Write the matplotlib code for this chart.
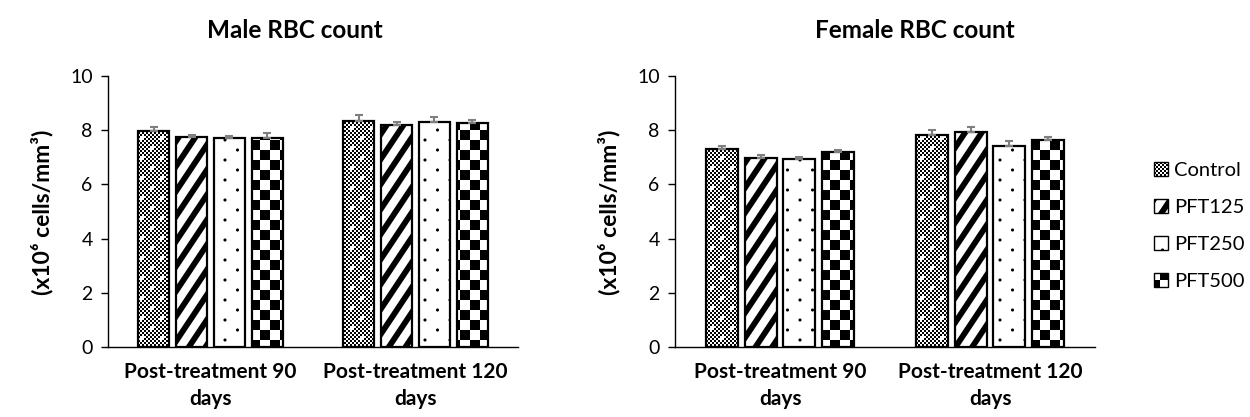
import numpy as np
import matplotlib
matplotlib.use("Agg")
import matplotlib.pyplot as plt
import matplotlib.hatch as mhatch
from matplotlib.path import Path
from matplotlib.patches import Patch

# ---------------- data ----------------
groups = ["Post-treatment 90\ndays", "Post-treatment 120\ndays"]
treatments = ["Control", "PFT125", "PFT250", "PFT500"]

male_mean = {
    "Control": [7.98, 8.35],
    "PFT125": [7.73, 8.17],
    "PFT250": [7.70, 8.30],
    "PFT500": [7.70, 8.25],
}
male_err = {
    "Control": [0.13, 0.20],
    "PFT125": [0.10, 0.13],
    "PFT250": [0.08, 0.20],
    "PFT500": [0.18, 0.11],
}
female_mean = {
    "Control": [7.30, 7.83],
    "PFT125": [6.97, 7.93],
    "PFT250": [6.93, 7.43],
    "PFT500": [7.19, 7.62],
}
female_err = {
    "Control": [0.11, 0.17],
    "PFT125": [0.10, 0.17],
    "PFT250": [0.08, 0.16],
    "PFT500": [0.07, 0.14],
}
y_ticks = [0, 2, 4, 6, 8, 10]


# ---------------- custom fill patterns ----------------
def _rect(x0, y0, w, h):
    return [(x0, y0), (x0 + w, y0), (x0 + w, y0 + h), (x0, y0 + h)]


def _dot(cx, cy, r, n=10):
    a = np.linspace(0, 2 * np.pi, n, endpoint=False)
    return list(zip(cx + r * np.cos(a), cy + r * np.sin(a)))


class _PolygonHatch(mhatch.HatchPatternBase):
    key = None

    def __init__(self, hatch, density):
        self.polys = self.build() if (self.key and self.key in hatch) else []
        self.num_vertices = sum(len(p) + 1 for p in self.polys)

    def build(self):
        return []

    def set_vertices_and_codes(self, vertices, codes):
        i = 0
        for p in self.polys:
            n = len(p)
            vertices[i:i + n] = p
            vertices[i + n] = p[0]
            codes[i] = Path.MOVETO
            codes[i + 1:i + n] = Path.LINETO
            codes[i + n] = Path.CLOSEPOLY
            i += n + 1


class _FineGrid(_PolygonHatch):
    # fine checker with small white dots
    key = "+"

    def build(self):
        n = 50
        c = 1.0 / n
        holes = set()
        for r, row in enumerate(range(0, n, 5)):
            start = 0 if r % 2 == 0 else 5
            for col in range(start, n, 10):
                for dx in (0, 1):
                    for dy in (0, 1):
                        holes.add(((col + dx) % n, (row + dy) % n))
        polys = []
        for i in range(n):
            for j in range(n):
                if (i + j) % 2 == 0 and (i, j) not in holes:
                    polys.append(_rect(i * c, j * c, c, c))
        return polys


class _WideStripes(_PolygonHatch):
    # thick upward diagonal stripes
    key = "O"

    def build(self):
        p, q, w = 6, 4, 0.42
        y0, y1 = -0.2, 1.2
        polys = []
        for k in range(-6, 8):
            xa = lambda c, y: (c + q * y) / p
            polys.append([(xa(k, y0), y0), (xa(k + w, y0), y0),
                          (xa(k + w, y1), y1), (xa(k, y1), y1)])
        return polys


class _SparseDots(_PolygonHatch):
    key = "o"

    def build(self):
        polys = []
        for r in range(0, 11):
            y = r * 0.1
            xs = np.arange(0, 1.01, 0.25) + (0.125 if r % 2 else 0.0)
            for x in xs:
                polys.append(_dot(x, y, 0.016))
        return polys


class _Checker(_PolygonHatch):
    key = "*"

    def build(self):
        n = 10
        c = 1.0 / n
        return [_rect(i * c, j * c, c, c)
                for i in range(n) for j in range(n) if (i + j) % 2 == 0]


mhatch._hatch_types[:] = [_FineGrid, _WideStripes, _SparseDots, _Checker]

hatches = {"Control": "+", "PFT125": "O", "PFT250": "o", "PFT500": "*"}

# ---------------- style ----------------
plt.rcParams["font.family"] = ["Lato", "DejaVu Sans"]
plt.rcParams["hatch.linewidth"] = 0.0
plt.rcParams["hatch.color"] = "black"

fig = plt.figure(figsize=(12.5, 4.17), dpi=100)
ax_m = fig.add_axes([0.0864, 0.168, 0.328, 0.65])
ax_f = fig.add_axes([0.54, 0.168, 0.336, 0.65])

x = np.arange(len(groups))
step = 0.185
width = 0.152


def draw_panel(ax, means, errs):
    for i, t in enumerate(treatments):
        pos = x + (i - 1.5) * step
        ax.bar(pos, means[t], width, facecolor="white", edgecolor="black",
               linewidth=1.6, hatch=hatches[t], zorder=2)
        ax.errorbar(pos, means[t], yerr=[np.zeros(len(groups)), errs[t]],
                    fmt="none", ecolor="#7f7f7f", elinewidth=1.5,
                    capsize=3, capthick=1.5, zorder=3)
    ax.set_xlim(-0.5, 1.5)
    ax.set_ylim(0, 10)
    ax.set_yticks(y_ticks)
    ax.set_yticklabels([str(v) for v in y_ticks], fontsize=14)
    ax.set_xticks(x)
    ax.set_xticklabels(groups, fontsize=15, fontweight="bold", linespacing=1.45)
    ax.tick_params(axis="x", length=0, pad=11)
    ax.tick_params(axis="y", direction="out", length=5, width=1, pad=6)
    for s in ("top", "right"):
        ax.spines[s].set_visible(False)
    for s in ("left", "bottom"):
        ax.spines[s].set_linewidth(1.0)
        ax.spines[s].set_color("black")


draw_panel(ax_m, male_mean, male_err)
draw_panel(ax_f, female_mean, female_err)

ylab = "(x10\u2076 cells/mm\u00b3)"
fig.text(0.034, 0.49, ylab, rotation=90, ha="center", va="center",
         fontsize=16.5, fontweight="bold")
fig.text(0.487, 0.49, ylab, rotation=90, ha="center", va="center",
         fontsize=16.5, fontweight="bold")

fig.text(0.236, 0.928, "Male RBC count", ha="center", va="center",
         fontsize=17.5, fontweight="bold")
fig.text(0.732, 0.928, "Female RBC count", ha="center", va="center",
         fontsize=17.5, fontweight="bold")

handles = [Patch(facecolor="white", edgecolor="black", linewidth=1.0,
                 hatch=hatches[t]) for t in treatments]
fig.legend(handles, treatments, loc="center left",
           bbox_to_anchor=(0.917, 0.458), frameon=False, fontsize=14.5,
           handlelength=0.7, handleheight=0.7, handletextpad=0.3,
           labelspacing=0.98, borderaxespad=0)

fig.savefig("out.png", dpi=100)
